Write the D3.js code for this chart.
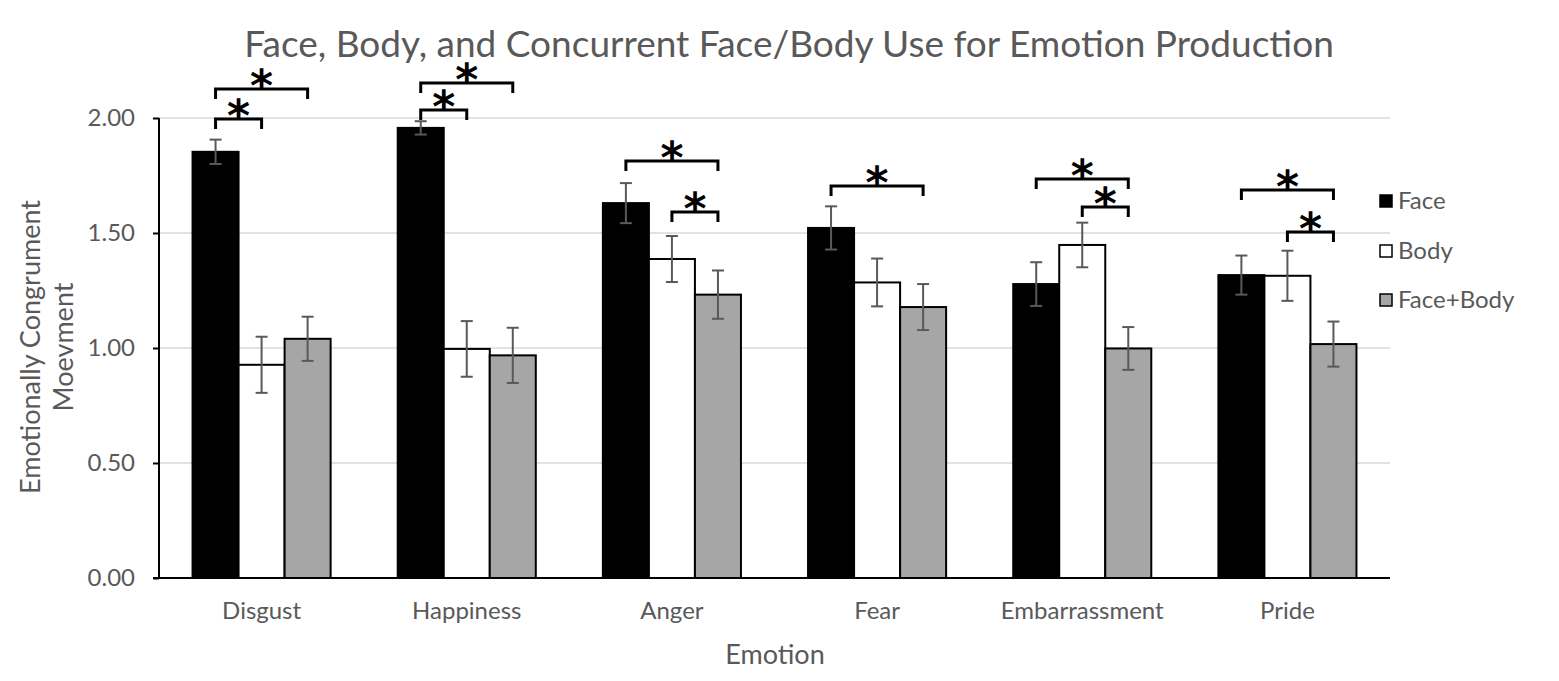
<!DOCTYPE html>
<html>
<head>
<script src="https://cdn.jsdelivr.net/npm/d3@7"></script>
<style>
  body { margin: 0; background: #fff; }
  text { font-family: Lato, "Open Sans", sans-serif; }
</style>
</head>
<body>
<script>
// categories and series
var categories = ["Disgust", "Happiness", "Anger", "Fear", "Embarrassment", "Pride"];
var seriesNames = ["Face", "Body", "Face+Body"];

// means
var faceMeans = [1.853, 1.957, 1.630, 1.522, 1.278, 1.317];
var bodyMeans = [0.927, 0.996, 1.387, 1.285, 1.448, 1.314];
var faceBodyMeans = [1.040, 0.968, 1.232, 1.178, 0.998, 1.017];

// error bar half widths
var faceErr = [0.053, 0.029, 0.087, 0.094, 0.095, 0.085];
var bodyErr = [0.122, 0.121, 0.100, 0.104, 0.097, 0.109];
var faceBodyErr = [0.096, 0.120, 0.105, 0.100, 0.093, 0.098];

var yTicks = [0, 0.5, 1, 1.5, 2];

// significance brackets (category, from series, to series, level in y units)
var sigCategory = ["Disgust", "Disgust", "Happiness", "Happiness", "Anger", "Anger", "Fear", "Embarrassment", "Embarrassment", "Pride", "Pride"];
var sigFrom = ["Face", "Face", "Face", "Face", "Face", "Body", "Face", "Face", "Body", "Face", "Body"];
var sigTo = ["Body", "Face+Body", "Body", "Face+Body", "Face+Body", "Face+Body", "Face+Body", "Face+Body", "Face+Body", "Face+Body", "Face+Body"];
var sigLevel = [1.996, 2.126, 2.035, 2.152, 1.813, 1.591, 1.704, 1.735, 1.613, 1.687, 1.504];

var seriesMeans = [faceMeans, bodyMeans, faceBodyMeans];
var seriesErr = [faceErr, bodyErr, faceBodyErr];
var seriesFill = ["#000000", "#ffffff", "#a6a6a6"];

var W = 1559, H = 681;
var plotLeft = 159, plotRight = 1390, plotTop = 118, plotBottom = 578;

var svg = d3.select("body").append("svg")
    .attr("width", W)
    .attr("height", H);

var x = d3.scaleBand().domain(categories).range([plotLeft, plotRight])
    .paddingInner(0.327).paddingOuter(0.1635);
var xs = d3.scaleBand().domain(seriesNames).range([0, x.bandwidth()]);
var y = d3.scaleLinear().domain([0, 2]).range([plotBottom, plotTop]);

// gridlines
svg.append("g")
  .selectAll("line")
  .data(yTicks.slice(1))
  .enter().append("line")
    .attr("x1", plotLeft).attr("x2", plotRight)
    .attr("y1", function(d) { return y(d); })
    .attr("y2", function(d) { return y(d); })
    .attr("stroke", "#d9d9d9")
    .attr("stroke-width", 1.5);

// bars
var rows = [];
categories.forEach(function(c, i) {
  seriesNames.forEach(function(s, j) {
    rows.push({ cat: c, series: s, j: j, v: seriesMeans[j][i], e: seriesErr[j][i] });
  });
});

svg.append("g")
  .selectAll("rect")
  .data(rows)
  .enter().append("rect")
    .attr("x", function(d) { return x(d.cat) + xs(d.series); })
    .attr("y", function(d) { return y(d.v); })
    .attr("width", xs.bandwidth())
    .attr("height", function(d) { return y(0) - y(d.v); })
    .attr("fill", function(d) { return seriesFill[d.j]; })
    .attr("stroke", "#000")
    .attr("stroke-width", 2);

// error bars
var eb = svg.append("g").attr("stroke", "#595959").attr("stroke-width", 2);
rows.forEach(function(d) {
  var cx = x(d.cat) + xs(d.series) + xs.bandwidth() / 2;
  eb.append("line").attr("x1", cx).attr("x2", cx).attr("y1", y(d.v + d.e)).attr("y2", y(d.v - d.e));
  eb.append("line").attr("x1", cx - 6).attr("x2", cx + 6).attr("y1", y(d.v + d.e)).attr("y2", y(d.v + d.e));
  eb.append("line").attr("x1", cx - 6).attr("x2", cx + 6).attr("y1", y(d.v - d.e)).attr("y2", y(d.v - d.e));
});

// y axis
var yAxis = svg.append("g")
    .attr("transform", "translate(" + plotLeft + ",0)")
    .call(d3.axisLeft(y).tickValues(yTicks).tickFormat(d3.format(".2f")).tickSize(6).tickPadding(18));
yAxis.select(".domain").attr("stroke", "#000").attr("stroke-width", 2).attr("d", "M0," + plotTop + "V" + plotBottom);
yAxis.selectAll(".tick line").attr("stroke", "#000").attr("stroke-width", 2);
yAxis.selectAll(".tick text").attr("fill", "#595959").style("font-size", "24px").style("font-family", "Lato, sans-serif");

// x axis
var xAxis = svg.append("g")
    .attr("transform", "translate(0," + plotBottom + ")")
    .call(d3.axisBottom(x).tickSize(0).tickPadding(24));
xAxis.select(".domain").attr("stroke", "#000").attr("stroke-width", 2).attr("d", "M" + (plotLeft - 6) + ",0H" + plotRight);
xAxis.selectAll(".tick text").attr("fill", "#595959").style("font-size", "24px").style("font-family", "Lato, sans-serif");

// significance brackets
var sg = svg.append("g");
sigCategory.forEach(function(c, i) {
  var x1 = x(c) + xs(sigFrom[i]) + xs.bandwidth() / 2;
  var x2 = x(c) + xs(sigTo[i]) + xs.bandwidth() / 2;
  var yy = y(sigLevel[i]);
  sg.append("path")
    .attr("d", "M" + x1 + "," + (yy + 10) + "V" + yy + "H" + x2 + "V" + (yy + 10))
    .attr("fill", "none")
    .attr("stroke", "#000")
    .attr("stroke-width", 3);
  sg.append("text")
    .attr("x", (x1 + x2) / 2)
    .attr("y", yy + 12)
    .attr("text-anchor", "middle")
    .style("font-size", "44px")
    .style("font-weight", "bold")
    .style("font-family", "DejaVu Sans, sans-serif")
    .text("*");
});

// title
svg.append("text")
    .attr("x", 789)
    .attr("y", 57)
    .attr("text-anchor", "middle")
    .attr("fill", "#595959")
    .style("font-size", "37px")
    .text("Face, Body, and Concurrent Face/Body Use for Emotion Production");

// axis titles
svg.append("text")
    .attr("x", 775)
    .attr("y", 664)
    .attr("text-anchor", "middle")
    .attr("fill", "#595959")
    .style("font-size", "27px")
    .text("Emotion");

var yl = svg.append("text")
    .attr("transform", "translate(0," + 347 + ") rotate(-90)")
    .attr("text-anchor", "middle")
    .attr("fill", "#595959")
    .style("font-size", "27px");
yl.append("tspan").attr("x", 0).attr("y", 40).text("Emotionally Congrument");
yl.append("tspan").attr("x", 0).attr("y", 73).text("Moevment");

// legend
var lg = svg.append("g").attr("transform", "translate(1380,0)");
var legendY = [201, 251, 300];
seriesNames.forEach(function(s, j) {
  lg.append("rect")
    .attr("x", 0).attr("y", legendY[j] - 6)
    .attr("width", 12).attr("height", 12)
    .attr("fill", seriesFill[j])
    .attr("stroke", "#000")
    .attr("stroke-width", 1.5);
  lg.append("text")
    .attr("x", 18).attr("y", legendY[j] + 8)
    .attr("fill", "#595959")
    .style("font-size", "24px")
    .text(s);
});
</script>
</body>
</html>
